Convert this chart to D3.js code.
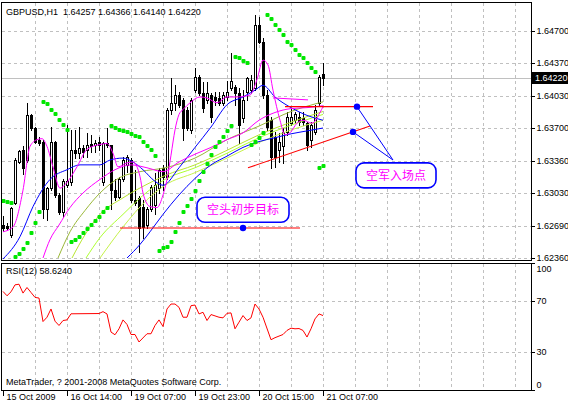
<!DOCTYPE html>
<html>
<head>
<meta charset="utf-8">
<title>GBPUSD H1</title>
<script src="https://d3js.org/d3.v7.min.js"></script>
<style>
  body { margin: 0; background: #fff; overflow: hidden; }
  svg text { font-family: "Liberation Sans", Arial, sans-serif; font-size: 9px; fill: #000; }
  .grid line { stroke: #c0c0c0; stroke-dasharray: 3,3; shape-rendering: crispEdges; }
  .frame { fill: none; stroke: #000; shape-rendering: crispEdges; }
  .cjk { font-family: "Noto Sans CJK SC", sans-serif; font-size: 12px; fill: #ff00ff; }
</style>
</head>
<body>
<svg id="chart" width="568" height="406"></svg>
<script>
// ---- candles, one per H1 bar (bar 0 = first visible bar) ----
const opens = [1.6270,1.6269,1.6260,1.6293,1.6335,1.6347,1.6337,1.6383,1.6370,1.6358,
  1.6356,1.6286,1.6308,1.6356,1.6301,1.6283,1.6311,1.6314,1.6347,1.6344,
  1.6349,1.6347,1.6354,1.6352,1.6356,1.6314,1.6355,1.6352,1.6306,1.6299,
  1.6317,1.6332,1.6337,1.6296,1.6298,1.6289,1.6270,1.6286,1.6291,1.6308,
  1.6329,1.6319,1.6389,1.6396,1.6404,1.6399,1.6389,1.6368,1.6409,1.6423,
  1.6406,1.6399,1.6404,1.6402,1.6401,1.6396,1.6402,1.6411,1.6412,1.6406,
  1.6380,1.6407,1.6409,1.6411,1.6476,1.6459,1.6404,1.6378,1.6361,1.6347,
  1.6351,1.6366,1.6375,1.6378,1.6381,1.6380,1.6375,1.6358,1.6366,1.6396,
  1.64257];
const highs = [1.6279,1.6272,1.6289,1.6339,1.6347,1.6351,1.6396,1.6384,1.6371,1.6361,
  1.6358,1.6309,1.6371,1.6357,1.6303,1.6317,1.6373,1.6368,1.6368,1.6371,
  1.6353,1.6365,1.6363,1.6358,1.6361,1.6356,1.6370,1.6353,1.6317,1.6319,
  1.6340,1.6342,1.6339,1.6327,1.6300,1.6296,1.6289,1.6311,1.6324,1.6329,
  1.6332,1.6391,1.6422,1.6414,1.6407,1.6401,1.6392,1.6401,1.6432,1.6425,
  1.6417,1.6417,1.6406,1.6407,1.6407,1.6407,1.6418,1.6447,1.6414,1.6411,
  1.6409,1.6423,1.6425,1.6487,1.6484,1.6463,1.6409,1.6381,1.6366,1.6365,
  1.6370,1.6386,1.6391,1.6387,1.6387,1.6386,1.6376,1.6376,1.6394,1.6425,
  1.64366];
const lows = [1.6264,1.6265,1.6258,1.6292,1.6334,1.6323,1.6335,1.6368,1.6355,1.6353,
  1.6277,1.6275,1.6306,1.6299,1.6281,1.6278,1.6309,1.6311,1.6339,1.6339,
  1.6340,1.6340,1.6345,1.6345,1.6347,1.6311,1.6350,1.6286,1.6296,1.6298,
  1.6315,1.6325,1.6294,1.6291,1.6242,1.6257,1.6267,1.6284,1.6281,1.6303,
  1.6306,1.6317,1.6384,1.6389,1.6392,1.6358,1.6368,1.6365,1.6407,1.6404,
  1.6387,1.6396,1.6376,1.6394,1.6394,1.6394,1.6399,1.6409,1.6394,1.6355,
  1.6376,1.6399,1.6406,1.6409,1.6458,1.6401,1.6368,1.6329,1.6330,1.6335,
  1.6334,1.6363,1.6373,1.6375,1.6373,1.6373,1.6347,1.6350,1.6364,1.6394,
  1.64140];
const closes = [1.6267,1.6267,1.6288,1.6337,1.6346,1.6329,1.6383,1.6370,1.6356,1.6355,
  1.6286,1.6308,1.6356,1.6301,1.6283,1.6315,1.6315,1.6347,1.6344,1.6349,
  1.6345,1.6353,1.6351,1.6355,1.6353,1.6355,1.6352,1.6306,1.6299,1.6317,
  1.6337,1.6340,1.6296,1.6293,1.6267,1.6268,1.6286,1.6309,1.6311,1.6327,
  1.6319,1.6389,1.6396,1.6404,1.6394,1.6370,1.6370,1.6399,1.6423,1.6406,
  1.6391,1.6406,1.6381,1.6399,1.6396,1.6404,1.6407,1.6418,1.6406,1.6373,
  1.6399,1.6422,1.6420,1.6476,1.6459,1.6404,1.6371,1.6340,1.6340,1.6356,
  1.6366,1.6381,1.6381,1.6384,1.6376,1.6376,1.6353,1.6373,1.6389,1.6423,
  1.64220];

// parabolic SAR, one per bar
const sar = [1.6295,1.6294,1.6293,
  1.6237,1.6240,1.6245,1.6251,1.6262,1.6272,1.6283,
  1.6397,1.6395,1.6389,1.6384,1.6378,1.6373,1.6368,
  1.6253,1.6255,1.6258,1.6262,1.6266,1.6270,1.6274,1.6278,1.6283,1.6288,
  1.6372,1.6370,1.6368,1.6367,1.6366,1.6364,1.6362,1.6361,1.6356,1.6351,1.6347,1.6341,
  1.6243,1.6246,1.6247,1.6253,1.6263,1.6272,1.6283,1.6290,1.6297,1.6305,1.6315,1.6325,1.6333,1.6342,1.6350,1.6356,1.6361,1.6367,1.6372,
  1.6443,1.6442,1.6439,1.6437,
  1.6353,1.6356,1.6360,1.6365,
  1.6486,1.6482,1.6476,1.6471,1.6466,1.6459,1.6456,1.6450,1.6445,1.6442,1.6437,1.6432,1.6428,
  1.6329,1.6331];

// moving averages, read at the bars given
const magFastBars = [0,2.5,5,6.75,8.5,9.75,11,12.5,14.25,16,18.5,21,24.25,26,27.5,28.75,31,32.5,34.25,35,36.75,38.5,40,41,42,43,44,45,46.75,49.25,51,53.5,56,58.5,61.75,63.5,65,66.25,67.5,69.25,70.5,71.75,73.5,75,77.25,79.25,80];
const magFastVals = [1.6263,1.6268,1.6306,1.6351,1.6358,1.6359,1.6351,1.6330,1.6308,1.6314,1.6330,1.6348,1.6353,1.6354,1.6344,1.6330,1.6334,1.6335,1.6320,1.6303,1.6289,1.6288,1.6301,1.6317,1.6342,1.6368,1.6384,1.6389,1.6396,1.6402,1.6401,1.6396,1.6402,1.6402,1.6404,1.6420,1.6440,1.6435,1.6409,1.6378,1.6363,1.6365,1.6375,1.6378,1.6375,1.6386,1.6392];
const magSlowBars = [10,11.75,14,16.75,20,24.25,28,32,36,40,44,48,52,56,60,64,68,72,76,80];
const magSlowVals = [1.6236,1.6255,1.6270,1.6288,1.6303,1.6317,1.6327,1.6332,1.6329,1.6325,1.6335,1.6343,1.6350,1.6358,1.6365,1.6378,1.6386,1.6390,1.6391,1.6393];
const magFlatBars = [67.5,76.25];
const magFlatVals = [1.6401,1.6399];
const blueFastBars = [0,4.25,7.5,11.75,16,19.25,21.75,24.25,26.75,30,32.5,35,38,40,44,48,52,56,60,63,65,68,72,76,80];
const blueFastVals = [1.6235,1.6258,1.6289,1.6317,1.6327,1.6332,1.6332,1.6332,1.6337,1.6339,1.6335,1.6327,1.6315,1.6311,1.6329,1.6350,1.6371,1.6394,1.6402,1.6409,1.6414,1.6402,1.6391,1.6383,1.6378];
const blueSlowBars = [31,34.25,36.75,40,44,48,52,56,60,64,68,72,76,80];
const blueSlowVals = [1.6236,1.6250,1.6263,1.6281,1.6301,1.6318,1.6332,1.6341,1.6350,1.6356,1.6360,1.6364,1.6367,1.6370];
const yg1Bars = [13.75,16.75,20.5,24.25,29.25,34.25,40.5,48,56,64,72,80];
const yg1Vals = [1.6236,1.6263,1.6285,1.6303,1.6319,1.6325,1.6329,1.6339,1.6358,1.6372,1.6387,1.6397];
const yg2Bars = [17.25,20.5,24.25,30,36,40.5,48,56,64,72,80];
const yg2Vals = [1.6236,1.6260,1.6281,1.6298,1.6312,1.6321,1.6332,1.6347,1.6363,1.6376,1.6387];
const yg3Bars = [20.75,24.25,30,36,40.5,48,56,64,72,80];
const yg3Vals = [1.6236,1.6257,1.6281,1.6304,1.6317,1.6329,1.6344,1.6360,1.6373,1.6384];
const yg4Bars = [24.25,30,36,40.5,48,56,64,72,80];
const yg4Vals = [1.6236,1.6268,1.6296,1.6311,1.6324,1.6339,1.6355,1.6368,1.6378];

// RSI(12)
const rsiBars = [0,1,2,3,4,5,6,7,8,9,10,11,12,13,14,15,16,17,24,25,26,27,28,29,30,31,32,33,34,36,37,38,39,40,41,42,43,44,45,46,47,48,49,50,51,52,54,55,56,57,58,59,60,61,62,63,64,65,67,68,70,71,72,73,74,75,76,77,78,79,80];
const rsiVals = [77.6,74.2,77.3,82.8,83.3,76.3,80.7,76.8,72.9,72.4,53.9,57.3,63.8,54.2,50.8,54.7,55.2,60.0,
  60.2,61.7,59.9,45.6,43.5,48.2,55.2,51.6,43.7,43.7,37.8,
  44.3,44.3,50.8,55.2,50.0,63.8,67.7,67.7,65.1,57.3,57.3,66.4,66.9,59.9,61.2,54.7,59.4,
  57.3,56.8,60.4,60.7,48.2,53.4,58.6,54.7,56.8,67.7,63.8,57.3,
  39.6,41.2,43.7,46.9,48.7,48.2,48.4,46.9,41.7,48.2,56.0,59.9,58.6];

// axes
const priceTicks = [1.64700,1.64370,1.64030,1.63700,1.63360,1.63030,1.62690,1.62360];
const rsiTicks = [100,70,30,0];
const rsiLevels = [70,30];
const timeTickBars = [0,16,32,48,64,80];
const timeTickLabels = ["15 Oct 2009","16 Oct 14:00","19 Oct 07:00","19 Oct 23:00","20 Oct 15:00","21 Oct 07:00"];
const lastPrice = 1.64220;

// drawn objects
const redLineBars = [[29.25,74.25],[70.5,92.5],[61.25,91.75]];
const redLinePrices = [[1.6267,1.6267],[1.6392,1.6392],[1.6329,1.6372]];
const dotBars = [60,88.5,87.5];
const dotPrices = [1.6267,1.6392,1.6366];
const pointerTarget = [97.5,1.6337];
const calloutTexts = ["空头初步目标","空军入场点"];
const calloutBars = [60,98.25];
const calloutPrices = [1.62857,1.63212];

const svg = d3.select("#chart");
const L = 1.5, R = 531.5, T = 2.5, B = 260.5, RT = 263.5, RB = 390.5;

const x = d3.scaleLinear().domain([0, 80]).range([3, 323]);
const y = d3.scaleLinear().domain([1.6236, 1.647]).range([258, 31]);
const yR = d3.scaleLinear().domain([0, 100]).range([390, 263]);
const px = v => Math.round(v) + 0.5;

svg.append("defs").append("clipPath").attr("id", "mainClip")
  .append("rect").attr("x", 2).attr("y", 3).attr("width", 529).attr("height", 257);
svg.append("defs").append("clipPath").attr("id", "rsiClip")
  .append("rect").attr("x", 2).attr("y", 264).attr("width", 529).attr("height", 126);

// grid
const gridBars = d3.range(8, 132, 8);
const grid = svg.append("g").attr("class", "grid");
gridBars.forEach(b => {
  grid.append("line").attr("x1", px(x(b))).attr("x2", px(x(b))).attr("y1", T).attr("y2", B);
  grid.append("line").attr("x1", px(x(b))).attr("x2", px(x(b))).attr("y1", RT).attr("y2", RB);
});
priceTicks.forEach(p => {
  grid.append("line").attr("x1", L).attr("x2", R).attr("y1", px(y(p))).attr("y2", px(y(p)));
});
rsiLevels.forEach(v => {
  grid.append("line").attr("x1", L).attr("x2", R).attr("y1", px(yR(v))).attr("y2", px(yR(v)));
});

// last price line
svg.append("line").attr("x1", L).attr("x2", R)
  .attr("y1", px(y(lastPrice))).attr("y2", px(y(lastPrice)))
  .attr("stroke", "#c0c0c0").attr("shape-rendering", "crispEdges");

const main = svg.append("g").attr("clip-path", "url(#mainClip)");

// candles
const bars = d3.range(opens.length);
const cg = main.append("g").attr("shape-rendering", "crispEdges");
bars.forEach(i => {
  const cx = Math.round(x(i));
  cg.append("line").attr("x1", cx + 0.5).attr("x2", cx + 0.5)
    .attr("y1", Math.round(y(highs[i]))).attr("y2", Math.round(y(lows[i])) + 1)
    .attr("stroke", "#000");
  const top = Math.round(y(Math.max(opens[i], closes[i])));
  const bot = Math.round(y(Math.min(opens[i], closes[i])));
  cg.append("rect").attr("x", cx - 0.5).attr("y", top + 0.5)
    .attr("width", 2).attr("height", Math.max(bot - top, 0))
    .attr("fill", closes[i] >= opens[i] ? "#fff" : "#000")
    .attr("stroke", "#000");
});

// indicator lines
const line = d3.line().x(d => x(d[0])).y(d => y(d[1])).curve(d3.curveMonotoneX);
const series = [
  [yg4Bars, yg4Vals, "#c6f24a"],
  [yg3Bars, yg3Vals, "#adff2f"],
  [yg2Bars, yg2Vals, "#b8e62e"],
  [yg1Bars, yg1Vals, "#9ab838"],
  [blueSlowBars, blueSlowVals, "#0000ff"],
  [blueFastBars, blueFastVals, "#0000ff"],
  [magSlowBars, magSlowVals, "#ff00ff"],
  [magFlatBars, magFlatVals, "#ff00ff"],
  [magFastBars, magFastVals, "#ff00ff"]
];
series.forEach(([bs, vs, col]) => {
  main.append("path").datum(bs.map((b, k) => [b, vs[k]]))
    .attr("d", line).attr("fill", "none").attr("stroke", col).attr("stroke-width", 1);
});

// parabolic SAR
main.selectAll("rect.sar").data(sar).enter().append("rect")
  .attr("class", "sar")
  .attr("x", (d, i) => Math.round(x(i)) - 1.5)
  .attr("y", d => Math.round(y(d)) - 2)
  .attr("width", 4).attr("height", 4)
  .attr("rx", 1).attr("ry", 1)
  .attr("fill", "#00e600");

// red trend lines
redLineBars.forEach((bs, k) => {
  main.append("line")
    .attr("x1", x(bs[0])).attr("x2", x(bs[1]))
    .attr("y1", y(redLinePrices[k][0])).attr("y2", y(redLinePrices[k][1]))
    .attr("stroke", "#ff0000").attr("stroke-width", 1.1);
});

// pointer lines to the entry callout
[1, 2].forEach(k => {
  main.append("line")
    .attr("x1", x(dotBars[k])).attr("y1", y(dotPrices[k]))
    .attr("x2", x(pointerTarget[0])).attr("y2", y(pointerTarget[1]))
    .attr("stroke", "#0000ff").attr("stroke-width", 1);
});

// callouts
calloutTexts.forEach((t, k) => {
  const g = main.append("g");
  const txt = g.append("text").attr("class", "cjk")
    .attr("x", x(calloutBars[k])).attr("y", y(calloutPrices[k]))
    .attr("text-anchor", "middle").attr("dy", "0.36em").text(t);
  const bb = txt.node().getBBox();
  g.insert("rect", "text")
    .attr("x", bb.x - 10).attr("y", y(calloutPrices[k]) - 12.5)
    .attr("width", bb.width + 20).attr("height", 25)
    .attr("rx", 8).attr("ry", 8)
    .attr("fill", "#fff").attr("stroke", "#0000ff").attr("stroke-width", 1.6);
});

// blue markers
main.selectAll("circle.dot").data(dotBars).enter().append("circle")
  .attr("class", "dot")
  .attr("cx", d => x(d)).attr("cy", (d, k) => y(dotPrices[k]))
  .attr("r", 3.2).attr("fill", "#0000ff");

// RSI
svg.append("g").attr("clip-path", "url(#rsiClip)").append("path")
  .datum(rsiBars.map((b, k) => [b, rsiVals[k]]))
  .attr("d", d3.line().x(d => x(d[0])).y(d => yR(d[1])))
  .attr("fill", "none").attr("stroke", "#ff0000").attr("stroke-width", 1);

// frames
svg.append("rect").attr("class", "frame").attr("x", L).attr("y", T).attr("width", R - L).attr("height", B - T);
svg.append("rect").attr("class", "frame").attr("x", L).attr("y", RT).attr("width", R - L).attr("height", RB - RT);

// price axis
const pa = svg.append("g").attr("transform", `translate(${R},0)`)
  .call(d3.axisRight(y).tickValues(priceTicks).tickSize(3).tickPadding(2).tickFormat(d3.format(".5f")));
pa.select(".domain").remove();
pa.selectAll("line").attr("stroke", "#000").attr("shape-rendering", "crispEdges");
pa.selectAll("text").style("font-family", "Liberation Sans, Arial, sans-serif").style("font-size", "9px");

// last price tag
const ly = y(lastPrice);
svg.append("rect").attr("x", 532).attr("y", Math.round(ly) - 6).attr("width", 36).attr("height", 12).attr("fill", "#000");
svg.append("text").attr("x", 535).attr("y", ly).attr("dy", "0.34em")
  .style("fill", "#fff").text(d3.format(".5f")(lastPrice));

// RSI axis
const ra = svg.append("g").attr("transform", `translate(${R},0)`)
  .call(d3.axisRight(yR).tickValues(rsiTicks).tickSize(3).tickPadding(2).tickFormat(d3.format("d")));
ra.select(".domain").remove();
ra.selectAll("line").attr("stroke", "#000").attr("shape-rendering", "crispEdges");
ra.selectAll("text").style("font-family", "Liberation Sans, Arial, sans-serif").style("font-size", "9px")
  .attr("dy", d => d === 100 ? "0.95em" : d === 0 ? "-0.25em" : "0.32em");

// time axis
const ta = svg.append("g").attr("transform", `translate(0,${RB})`)
  .call(d3.axisBottom(x).tickValues(timeTickBars).tickSize(5).tickPadding(2)
    .tickFormat((d, i) => timeTickLabels[i]));
ta.select(".domain").remove();
ta.selectAll(".tick").attr("transform", d => `translate(${px(x(d))},0)`);
ta.selectAll("line").attr("stroke", "#000").attr("shape-rendering", "crispEdges");
ta.selectAll("text").attr("text-anchor", "start").attr("x", 3).attr("y", 3).attr("dy", "0.71em")
  .style("font-family", "Liberation Sans, Arial, sans-serif").style("font-size", "9px");

// captions
svg.append("text").attr("x", 6).attr("y", 15).attr("xml:space", "preserve")
  .text("GBPUSD,H1  1.64257 1.64366 1.64140 1.64220");
svg.append("text").attr("x", 6).attr("y", 274).text("RSI(12) 58.6240");
svg.append("text").attr("x", 6).attr("y", 385).text("MetaTrader, ? 2001-2008 MetaQuotes Software Corp.");
</script>
</body>
</html>
